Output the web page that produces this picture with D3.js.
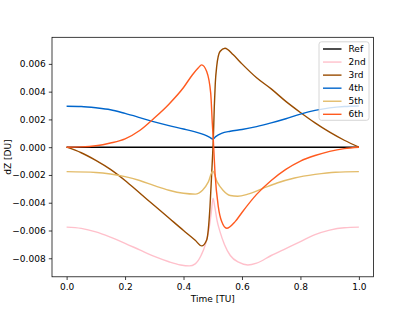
<!DOCTYPE html>
<html>
    <head>
        <meta charset="utf-8" />
        <title>dZ vs Time</title>
        <script src="https://d3js.org/d3.v7.min.js"></script>
        <style>
            body {
                margin: 0;
                background: #fff;
            }
            svg {
                font-family: 'DejaVu Sans', sans-serif;
            }
        </style>
    </head>
    <body>
        <svg id="chart" width="415" height="311"></svg>
        <script>
            // values, [time, dZ]
            var refData = [[0, 0], [1, 0]];
            var second = [
                [0, -0.00576], [0.05, -0.00585], [0.1, -0.0061], [0.15, -0.00648], [0.2, -0.00692], [0.25, -0.0074],
                [0.3, -0.00787], [0.35, -0.00825], [0.39, -0.00848], [0.42, -0.00855], [0.44, -0.0084], [0.46, -0.0078],
                [0.475, -0.007], [0.487, -0.0059], [0.495, -0.0047], [0.501, -0.00367], [0.507, -0.0043],
                [0.515, -0.0053], [0.525, -0.0061], [0.54, -0.007], [0.56, -0.0078], [0.59, -0.0083], [0.62, -0.00848],
                [0.65, -0.00835], [0.7, -0.0078], [0.75, -0.0073], [0.8, -0.0068], [0.85, -0.0063], [0.9, -0.00597],
                [0.95, -0.0058], [1, -0.00576]
            ];
            var third = [
                [0, 0], [0.05, -0.0004], [0.1, -0.00095], [0.15, -0.0016], [0.2, -0.0024], [0.25, -0.0033],
                [0.3, -0.0042], [0.35, -0.0051], [0.4, -0.006], [0.44, -0.0067], [0.462, -0.00711], [0.4793, -0.00668],
                [0.4906, -0.00428], [0.4964, -0.00187], [0.4998, -0.00043], [0.5019, 0.00053], [0.5053, 0.00292],
                [0.5087, 0.00461], [0.5135, 0.00581], [0.5248, 0.00689], [0.5419, 0.00713], [0.5703, 0.00665],
                [0.6, 0.006], [0.65, 0.005], [0.7, 0.0042], [0.75, 0.0033], [0.8, 0.0025], [0.85, 0.00175],
                [0.9, 0.00108], [0.95, 0.0005], [1, 0]
            ];
            var fourth = [
                [0, 0.00295], [0.05, 0.00293], [0.1, 0.00284], [0.15, 0.0027], [0.2, 0.00243], [0.25, 0.00213],
                [0.3, 0.00182], [0.35, 0.00155], [0.4, 0.00131], [0.44, 0.0011], [0.47, 0.0009], [0.49, 0.0007],
                [0.5, 0.00058], [0.51, 0.00076], [0.53, 0.001], [0.56, 0.00115], [0.6, 0.00127], [0.65, 0.00148],
                [0.7, 0.00175], [0.75, 0.00205], [0.8, 0.00238], [0.85, 0.00265], [0.9, 0.00283], [0.95, 0.00293],
                [1, 0.00297]
            ];
            var fifth = [
                [0, -0.00176], [0.1, -0.00182], [0.15, -0.00193], [0.2, -0.00212], [0.25, -0.0024], [0.3, -0.00277],
                [0.35, -0.0031], [0.4, -0.00332], [0.44, -0.00338], [0.465, -0.0031], [0.485, -0.0025], [0.5, -0.00171],
                [0.515, -0.0025], [0.535, -0.0031], [0.56, -0.00348], [0.585, -0.00353], [0.62, -0.00338],
                [0.67, -0.00298], [0.72, -0.00258], [0.78, -0.00222], [0.85, -0.00196], [0.92, -0.0018], [1, -0.00176]
            ];
            var sixth = [
                [0, 0], [0.05, 0.00002], [0.1, 0.0001], [0.15, 0.0003], [0.2, 0.0006], [0.25, 0.0012],
                [0.3, 0.0021], [0.35, 0.0031], [0.4, 0.0043], [0.43, 0.0052], [0.45, 0.0057], [0.462, 0.00593],
                [0.4793, 0.00545], [0.493, 0.00389], [0.4985, 0.00173], [0.5019, 0.00053], [0.5077, -0.00187],
                [0.519, -0.00428], [0.5306, -0.00536], [0.5477, -0.00584], [0.5766, -0.00536], [0.6, -0.0047],
                [0.65, -0.0034], [0.7, -0.0024], [0.75, -0.0016], [0.8, -0.001], [0.85, -0.0006], [0.9, -0.0003],
                [0.95, -0.0001], [1, 0]
            ];

            var labels = ['Ref', '2nd', '3rd', '4th', '5th', '6th'];
            var colors = ['#000000', '#ffc0cb', '#994c00', '#0066cc', '#e3bc6a', '#ff5a1f'];
            var seriesData = [refData, second, third, fourth, fifth, sixth];

            var xTicks = [0, 0.2, 0.4, 0.6, 0.8, 1.0];
            var yTicks = [-0.008, -0.006, -0.004, -0.002, 0, 0.002, 0.004, 0.006];

            var plotLeft = 52, plotRight = 373.5, plotTop = 37.3, plotBottom = 276.8;
            var svg = d3.select('#chart');

            var allVals = seriesData.flat().map((d) => d[1]);
            var yMin = d3.min(allVals), yMax = d3.max(allVals);
            var yPad = (yMax - yMin) * 0.05;

            var x = d3.scaleLinear().domain([-0.05, 1.05]).range([plotLeft, plotRight]);
            var y = d3.scaleLinear().domain([yMin - yPad, yMax + yPad]).range([plotBottom, plotTop]);

            var line = d3
                .line()
                .x((d) => x(d[0]))
                .y((d) => y(d[1]))
                .curve(d3.curveMonotoneX);

            svg.selectAll('path.series')
                .data(seriesData)
                .enter()
                .append('path')
                .attr('class', 'series')
                .attr('d', line)
                .attr('fill', 'none')
                .attr('stroke', (d, i) => colors[i])
                .attr('stroke-width', 1.4);

            var xAxis = svg
                .append('g')
                .attr('transform', 'translate(0,' + plotBottom + ')')
                .call(d3.axisBottom(x).tickValues(xTicks).tickFormat(d3.format('.1f')).tickSize(3.2).tickPadding(3.2));
            var yAxis = svg
                .append('g')
                .attr('transform', 'translate(' + plotLeft + ',0)')
                .call(d3.axisLeft(y).tickValues(yTicks).tickFormat(d3.format('.3f')).tickSize(3.2).tickPadding(3.2));

            [xAxis, yAxis].forEach(function (g) {
                g.select('.domain').remove();
                g.selectAll('text').attr('font-size', 9).attr('font-family', 'DejaVu Sans').attr('fill', '#000');
                g.selectAll('line').attr('stroke', '#000').attr('stroke-width', 0.75);
            });

            svg.append('rect')
                .attr('x', plotLeft)
                .attr('y', plotTop)
                .attr('width', plotRight - plotLeft)
                .attr('height', plotBottom - plotTop)
                .attr('fill', 'none')
                .attr('stroke', '#000')
                .attr('stroke-width', 0.75);

            svg.append('text')
                .attr('x', (plotLeft + plotRight) / 2)
                .attr('y', 302)
                .attr('text-anchor', 'middle')
                .attr('font-size', 9)
                .text('Time [TU]');

            svg.append('text')
                .attr('transform', 'translate(11,' + (plotTop + plotBottom) / 2 + ') rotate(-90)')
                .attr('text-anchor', 'middle')
                .attr('font-size', 9)
                .text('dZ [DU]');

            // legend, upper right
            var legend = svg.append('g');
            legend
                .append('rect')
                .attr('x', 319)
                .attr('y', 41.8)
                .attr('width', 50)
                .attr('height', 78.5)
                .attr('rx', 2.5)
                .attr('fill', '#fff')
                .attr('fill-opacity', 0.8)
                .attr('stroke', '#cccccc')
                .attr('stroke-width', 0.8);

            var rows = legend
                .selectAll('g.row')
                .data(labels)
                .enter()
                .append('g')
                .attr('class', 'row')
                .attr('transform', (d, i) => 'translate(0,' + (49 + i * 13.06) + ')');
            rows.append('line')
                .attr('x1', 323)
                .attr('x2', 341.5)
                .attr('stroke', (d, i) => colors[i])
                .attr('stroke-width', 1.4);
            rows.append('text')
                .attr('x', 348.5)
                .attr('dy', '0.35em')
                .attr('font-size', 9)
                .text((d) => d);
        </script>
    </body>
</html>
